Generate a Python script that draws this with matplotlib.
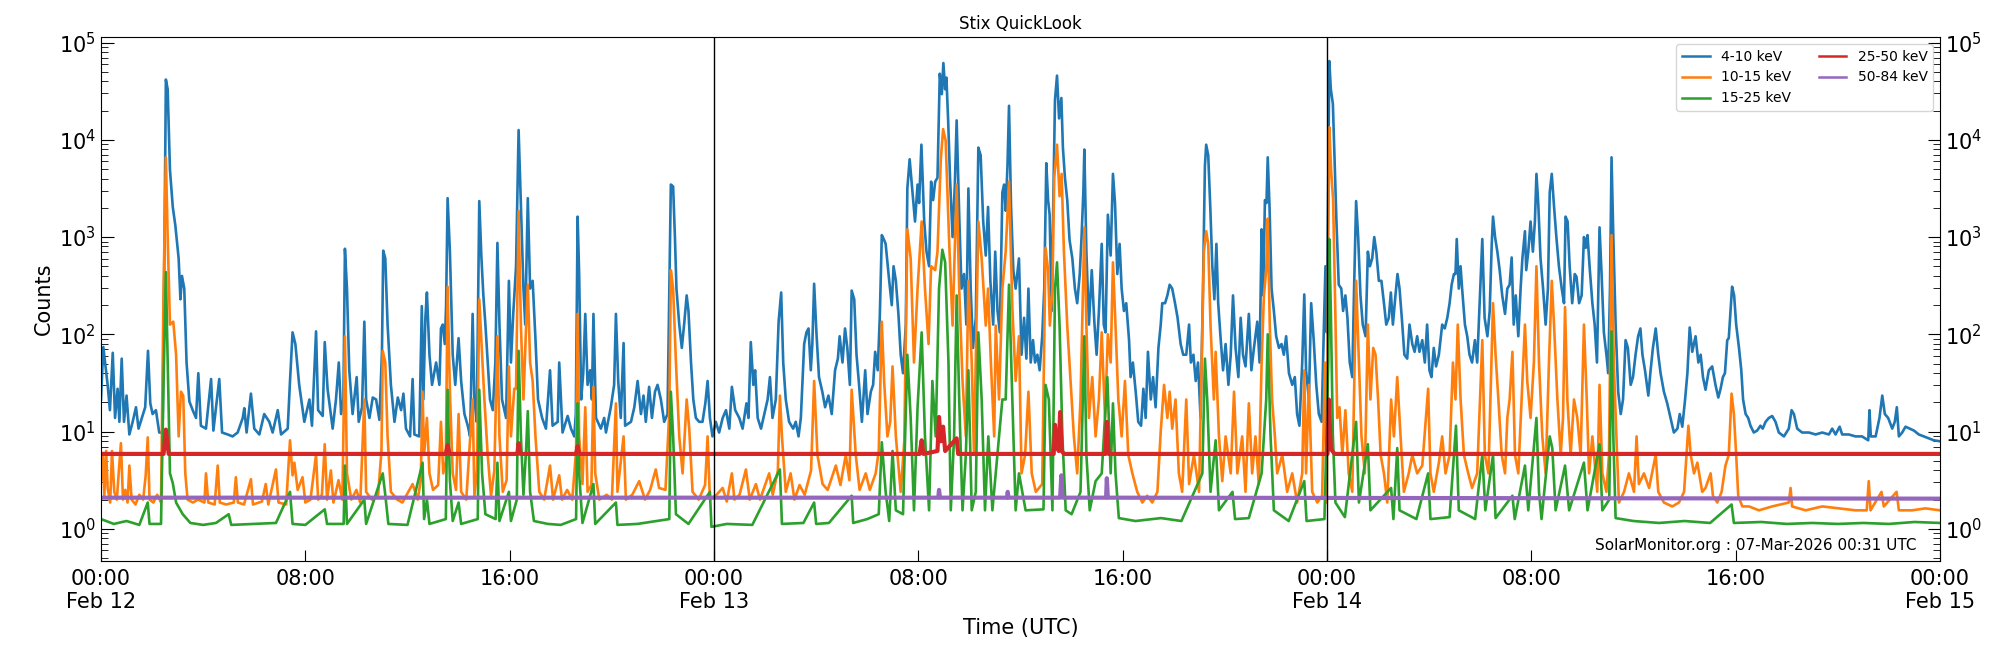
import numpy as np
import matplotlib
matplotlib.use('Agg')
import matplotlib.pyplot as plt

# hours since 2026-02-12 00:00 UTC, log10(counts)
lc_4_10 = [
    (0.00, 1.33), (0.09, 1.87), (0.26, 1.48), (0.35, 1.22), (0.46, 1.81), (0.55, 1.14), (0.65, 1.44),
    (0.72, 1.10), (0.81, 1.75), (0.90, 1.10), (1.00, 1.37), (1.11, 0.97), (1.24, 1.10), (1.37, 1.25),
    (1.47, 1.03), (1.73, 1.25), (1.84, 1.83), (1.93, 1.29), (2.02, 1.18), (2.15, 1.22), (2.28, 0.99),
    (2.41, 0.99), (2.47, 2.47), (2.54, 4.62), (2.61, 4.52), (2.70, 3.69), (2.81, 3.31), (2.91, 3.12),
    (3.04, 2.78), (3.11, 2.36), (3.17, 2.60), (3.26, 2.47), (3.35, 1.71), (3.46, 1.31), (3.59, 1.22),
    (3.72, 1.14), (3.81, 1.60), (3.91, 1.06), (4.11, 1.03), (4.31, 1.54), (4.40, 1.01), (4.63, 1.54),
    (4.74, 0.99), (4.96, 0.97), (5.15, 0.95), (5.35, 0.99), (5.55, 1.14), (5.61, 1.24), (5.70, 0.99),
    (5.87, 1.39), (6.00, 1.03), (6.20, 0.97), (6.39, 1.18), (6.59, 1.10), (6.72, 0.99), (6.92, 1.22),
    (7.05, 0.97), (7.31, 1.03), (7.40, 1.52), (7.50, 2.02), (7.61, 1.90), (7.76, 1.48), (7.96, 1.10),
    (8.16, 1.33), (8.26, 1.06), (8.42, 2.03), (8.50, 1.22), (8.68, 1.16), (8.76, 1.92), (8.87, 1.44),
    (9.07, 1.03), (9.20, 1.33), (9.31, 1.71), (9.40, 1.18), (9.49, 1.33), (9.55, 2.88), (9.63, 2.47),
    (9.72, 1.63), (9.85, 1.18), (10.01, 1.56), (10.09, 1.10), (10.22, 1.25), (10.31, 2.13), (10.38, 1.33),
    (10.51, 1.14), (10.64, 1.35), (10.77, 1.33), (10.90, 1.12), (11.00, 1.82), (11.05, 2.86), (11.13, 2.78),
    (11.22, 2.10), (11.35, 1.48), (11.49, 1.10), (11.62, 1.35), (11.75, 1.22), (11.84, 1.39), (11.94, 1.03),
    (12.10, 0.95), (12.20, 1.54), (12.27, 0.97), (12.46, 0.95), (12.56, 2.29), (12.62, 1.33), (12.70, 2.17),
    (12.76, 2.43), (12.86, 1.79), (12.96, 1.48), (13.12, 1.71), (13.25, 1.48), (13.31, 2.06), (13.38, 2.10),
    (13.46, 1.90), (13.51, 2.28), (13.57, 3.40), (13.66, 2.85), (13.77, 1.79), (13.87, 1.48), (14.00, 1.96),
    (14.10, 1.52), (14.23, 1.18), (14.36, 1.06), (14.45, 0.95), (14.55, 2.21), (14.62, 1.33), (14.71, 1.10),
    (14.81, 3.37), (14.89, 2.81), (14.97, 2.40), (15.05, 2.10), (15.14, 1.71), (15.23, 1.33), (15.34, 1.22),
    (15.44, 1.71), (15.52, 2.94), (15.60, 2.10), (15.70, 1.33), (15.86, 1.14), (15.97, 2.55), (16.05, 1.71),
    (16.14, 2.21), (16.25, 2.70), (16.35, 4.10), (16.44, 3.31), (16.54, 2.47), (16.61, 2.10), (16.71, 3.40),
    (16.80, 2.47), (16.90, 2.55), (17.01, 1.95), (17.11, 1.33), (17.27, 1.14), (17.42, 1.03), (17.58, 1.63),
    (17.68, 1.06), (17.88, 1.10), (17.94, 1.71), (18.07, 0.99), (18.27, 1.16), (18.40, 1.03), (18.53, 0.95),
    (18.59, 1.18), (18.66, 3.21), (18.72, 2.62), (18.80, 1.33), (18.88, 1.60), (18.96, 2.21), (19.05, 1.48),
    (19.15, 1.63), (19.22, 1.33), (19.28, 2.21), (19.38, 1.14), (19.57, 1.03), (19.70, 1.14), (19.77, 0.99),
    (19.96, 1.25), (20.09, 1.48), (20.16, 2.21), (20.25, 1.52), (20.35, 1.14), (20.46, 1.91), (20.52, 1.06),
    (20.75, 1.10), (20.88, 1.25), (21.01, 1.52), (21.14, 1.18), (21.24, 1.37), (21.33, 1.10), (21.46, 1.46),
    (21.57, 1.14), (21.69, 1.41), (21.79, 1.48), (21.92, 1.33), (22.05, 1.10), (22.18, 1.18), (22.25, 2.47),
    (22.31, 3.54), (22.40, 3.52), (22.47, 3.00), (22.53, 2.47), (22.64, 2.10), (22.74, 1.86), (22.83, 2.10),
    (22.93, 2.40), (23.00, 2.24), (23.10, 1.71), (23.19, 1.33), (23.29, 1.14), (23.42, 1.10), (23.55, 1.10),
    (23.66, 1.29), (23.75, 1.52), (23.84, 1.14), (23.94, 0.95), (24.07, 1.10), (24.20, 0.99), (24.34, 1.14),
    (24.47, 1.22), (24.60, 1.03), (24.70, 1.46), (24.83, 1.22), (24.99, 1.14), (25.12, 1.03), (25.27, 1.29),
    (25.35, 1.14), (25.44, 1.92), (25.54, 1.48), (25.61, 1.63), (25.71, 1.14), (25.84, 1.03), (25.97, 1.18),
    (26.10, 1.33), (26.19, 1.56), (26.29, 1.14), (26.42, 1.33), (26.53, 2.13), (26.63, 2.43), (26.71, 1.71),
    (26.81, 1.33), (26.94, 1.10), (27.10, 1.03), (27.20, 1.10), (27.31, 0.95), (27.40, 1.14), (27.53, 1.90),
    (27.62, 2.02), (27.70, 2.06), (27.79, 1.63), (27.85, 1.90), (27.92, 2.52), (28.01, 2.02), (28.11, 1.56),
    (28.24, 1.41), (28.35, 1.25), (28.48, 1.37), (28.61, 1.18), (28.74, 1.63), (28.85, 1.75), (28.92, 1.98),
    (29.03, 1.71), (29.13, 2.06), (29.22, 1.86), (29.32, 1.48), (29.39, 2.45), (29.49, 2.36), (29.58, 1.79),
    (29.68, 1.48), (29.79, 1.10), (29.92, 1.63), (30.01, 1.18), (30.14, 1.41), (30.23, 1.48), (30.31, 1.82),
    (30.41, 1.63), (30.49, 2.17), (30.57, 3.02), (30.66, 2.97), (30.72, 2.93), (30.86, 2.55), (30.96, 2.30),
    (31.03, 2.70), (31.12, 2.55), (31.22, 2.21), (31.31, 1.79), (31.40, 1.60), (31.51, 2.10), (31.57, 3.50),
    (31.66, 3.80), (31.77, 3.46), (31.87, 3.16), (31.97, 3.54), (32.03, 3.35), (32.12, 3.95), (32.23, 3.16),
    (32.32, 2.85), (32.42, 2.70), (32.50, 3.57), (32.58, 3.38), (32.66, 3.57), (32.75, 3.61), (32.84, 4.68),
    (32.92, 4.47), (32.98, 4.79), (33.05, 4.52), (33.10, 4.64), (33.17, 4.18), (33.24, 3.61), (33.34, 3.00),
    (33.43, 3.54), (33.50, 4.20), (33.60, 3.23), (33.69, 2.47), (33.79, 2.62), (33.88, 2.10), (33.96, 3.50),
    (34.05, 2.47), (34.14, 1.86), (34.25, 2.17), (34.35, 3.92), (34.44, 3.84), (34.54, 3.16), (34.64, 2.81),
    (34.73, 3.31), (34.82, 2.55), (34.93, 2.10), (35.01, 2.85), (35.10, 2.24), (35.19, 2.02), (35.29, 3.46),
    (35.36, 3.54), (35.42, 3.27), (35.49, 3.73), (35.55, 4.35), (35.63, 3.31), (35.72, 2.66), (35.81, 2.47),
    (35.94, 2.78), (36.04, 1.79), (36.14, 2.17), (36.23, 1.75), (36.31, 2.47), (36.40, 1.71), (36.49, 1.94),
    (36.57, 1.71), (36.66, 1.79), (36.75, 1.63), (36.85, 1.98), (36.93, 2.47), (37.01, 3.76), (37.08, 3.38),
    (37.14, 3.23), (37.22, 2.24), (37.28, 3.31), (37.35, 4.41), (37.43, 4.66), (37.51, 4.22), (37.60, 4.43),
    (37.66, 3.92), (37.74, 3.61), (37.83, 3.38), (37.92, 2.97), (38.03, 2.78), (38.13, 2.47), (38.22, 2.32),
    (38.32, 2.62), (38.39, 3.00), (38.46, 3.46), (38.50, 3.90), (38.58, 2.85), (38.68, 2.10), (38.79, 2.66),
    (38.89, 2.13), (38.98, 1.79), (39.07, 2.24), (39.18, 2.93), (39.26, 2.10), (39.33, 2.02), (39.42, 3.23),
    (39.53, 2.81), (39.62, 3.65), (39.70, 3.35), (39.79, 2.62), (39.88, 2.93), (39.96, 2.47), (40.05, 2.24),
    (40.14, 2.32), (40.25, 1.94), (40.31, 1.56), (40.40, 1.71), (40.51, 1.41), (40.61, 1.10), (40.72, 1.06),
    (40.81, 1.44), (40.90, 1.14), (40.99, 1.82), (41.10, 1.33), (41.19, 1.56), (41.29, 1.25), (41.40, 1.86),
    (41.49, 2.10), (41.55, 2.32), (41.66, 2.32), (41.75, 2.40), (41.84, 2.51), (41.94, 2.47), (42.05, 2.32),
    (42.15, 2.17), (42.27, 1.90), (42.37, 1.79), (42.49, 1.79), (42.60, 2.10), (42.67, 1.71), (42.77, 1.79),
    (42.86, 1.52), (42.95, 1.71), (43.05, 1.14), (43.14, 2.40), (43.22, 3.73), (43.27, 3.95), (43.35, 3.84),
    (43.43, 3.31), (43.51, 2.70), (43.59, 2.36), (43.67, 2.93), (43.74, 2.32), (43.84, 1.94), (43.93, 1.63),
    (44.03, 1.90), (44.14, 1.48), (44.23, 1.79), (44.32, 2.40), (44.42, 1.86), (44.53, 1.56), (44.62, 2.17),
    (44.71, 1.79), (44.81, 1.67), (44.94, 2.21), (45.04, 1.63), (45.14, 1.86), (45.27, 2.13), (45.36, 1.71),
    (45.44, 3.08), (45.50, 2.40), (45.57, 3.38), (45.63, 3.35), (45.68, 3.82), (45.75, 3.31), (45.83, 2.47),
    (45.92, 2.24), (46.01, 1.98), (46.12, 1.86), (46.22, 1.90), (46.31, 1.79), (46.40, 1.98), (46.51, 1.60),
    (46.64, 1.48), (46.74, 1.56), (46.83, 1.18), (46.92, 1.06), (47.03, 1.71), (47.11, 2.41), (47.18, 1.63),
    (47.29, 1.33), (47.38, 2.32), (47.48, 1.94), (47.58, 1.48), (47.68, 1.18), (47.79, 1.10), (47.88, 2.10),
    (47.94, 2.70), (47.99, 2.02), (48.05, 3.61), (48.09, 4.81), (48.15, 4.52), (48.23, 4.37), (48.31, 3.69),
    (48.37, 3.16), (48.46, 2.51), (48.56, 2.47), (48.63, 2.24), (48.72, 2.40), (48.80, 2.17), (48.89, 1.71),
    (48.99, 1.56), (49.06, 2.47), (49.14, 3.37), (49.22, 3.00), (49.31, 2.40), (49.40, 2.10), (49.51, 1.98),
    (49.60, 2.85), (49.68, 2.70), (49.77, 2.78), (49.85, 3.00), (49.93, 2.85), (50.03, 2.55), (50.13, 2.55),
    (50.23, 2.32), (50.32, 2.10), (50.42, 2.17), (50.50, 2.43), (50.58, 2.10), (50.68, 2.40), (50.76, 2.62),
    (50.84, 2.47), (50.94, 2.13), (51.03, 1.79), (51.14, 1.75), (51.23, 2.10), (51.34, 1.90), (51.43, 1.82),
    (51.53, 1.98), (51.62, 1.82), (51.73, 1.94), (51.83, 1.71), (51.92, 2.10), (52.01, 1.63), (52.09, 1.56),
    (52.18, 1.86), (52.27, 1.67), (52.38, 1.79), (52.51, 2.10), (52.61, 2.06), (52.71, 2.17), (52.80, 2.32),
    (52.88, 2.51), (52.97, 2.62), (53.03, 2.62), (53.08, 2.98), (53.16, 2.47), (53.23, 2.70), (53.29, 2.47),
    (53.40, 2.10), (53.49, 1.98), (53.58, 1.79), (53.68, 1.71), (53.79, 1.94), (53.88, 1.71), (54.00, 2.47),
    (54.08, 2.98), (54.17, 2.17), (54.28, 1.98), (54.37, 2.24), (54.45, 2.93), (54.50, 3.21), (54.58, 3.00),
    (54.67, 2.85), (54.76, 2.66), (54.86, 2.40), (54.97, 2.21), (55.06, 2.47), (55.15, 2.51), (55.23, 2.79),
    (55.31, 2.10), (55.39, 2.40), (55.49, 1.98), (55.58, 2.47), (55.65, 2.78), (55.75, 3.06), (55.80, 2.66),
    (55.88, 2.85), (55.97, 3.16), (56.06, 2.85), (56.14, 3.16), (56.20, 3.65), (56.27, 3.35), (56.36, 2.78),
    (56.46, 2.47), (56.56, 2.10), (56.65, 2.47), (56.72, 3.46), (56.80, 3.65), (56.89, 3.31), (56.98, 3.00),
    (57.08, 2.70), (57.19, 2.47), (57.28, 2.32), (57.34, 3.21), (57.42, 3.16), (57.50, 2.70), (57.60, 2.32),
    (57.70, 2.62), (57.77, 2.59), (57.87, 2.32), (57.97, 2.40), (58.06, 3.00), (58.13, 2.89), (58.20, 3.02),
    (58.28, 2.70), (58.39, 2.32), (58.48, 2.10), (58.57, 1.71), (58.67, 3.10), (58.75, 2.62), (58.84, 2.02),
    (58.94, 1.79), (59.01, 1.60), (59.08, 2.47), (59.14, 3.82), (59.21, 3.00), (59.30, 2.10), (59.40, 1.41),
    (59.50, 1.18), (59.59, 1.33), (59.69, 1.94), (59.78, 1.86), (59.89, 1.48), (59.98, 1.56), (60.08, 1.79),
    (60.18, 1.98), (60.27, 2.06), (60.35, 1.79), (60.45, 1.63), (60.58, 1.37), (60.67, 1.63), (60.76, 1.86),
    (60.87, 2.06), (60.97, 1.79), (61.06, 1.60), (61.19, 1.41), (61.32, 1.29), (61.45, 1.14), (61.58, 0.99),
    (61.72, 1.03), (61.81, 1.18), (61.91, 1.05), (62.02, 1.33), (62.11, 1.60), (62.20, 2.07), (62.30, 1.82),
    (62.43, 1.98), (62.54, 1.71), (62.63, 1.79), (62.72, 1.56), (62.82, 1.43), (62.95, 1.63), (63.08, 1.67),
    (63.21, 1.48), (63.32, 1.35), (63.41, 1.44), (63.50, 1.56), (63.58, 1.60), (63.67, 1.94), (63.73, 1.96),
    (63.80, 2.24), (63.86, 2.49), (63.94, 2.40), (64.02, 2.10), (64.13, 1.86), (64.22, 1.63), (64.29, 1.33),
    (64.39, 1.18), (64.49, 1.14), (64.58, 1.06), (64.71, 0.99), (64.84, 1.01), (64.97, 1.06), (65.06, 1.03),
    (65.17, 1.10), (65.30, 1.14), (65.43, 1.16), (65.56, 1.10), (65.69, 0.99), (65.89, 0.95), (66.08, 1.03),
    (66.19, 1.22), (66.28, 1.18), (66.41, 1.03), (66.60, 0.99), (66.87, 0.99), (67.13, 0.97), (67.39, 0.99),
    (67.65, 0.97), (67.78, 1.03), (67.91, 0.97), (68.07, 1.05), (68.17, 0.97), (68.43, 0.97), (68.69, 0.95),
    (68.95, 0.95), (69.19, 0.91), (69.24, 1.22), (69.29, 0.95), (69.48, 0.95), (69.63, 1.14), (69.74, 1.37),
    (69.84, 1.18), (69.97, 1.14), (70.13, 1.03), (70.23, 1.10), (70.31, 1.25), (70.39, 0.95), (70.52, 0.99),
    (70.65, 1.05), (70.81, 1.03), (70.98, 1.01), (71.17, 0.97), (71.37, 0.95), (71.56, 0.93), (71.76, 0.91),
    (72.00, 0.90),
]

lc_10_15 = [
    (0.00, 0.50), (0.07, 0.78), (0.13, 0.34), (0.20, 0.80), (0.26, 0.42), (0.36, 0.27), (0.43, 0.80),
    (0.52, 0.38), (0.62, 0.30), (0.70, 0.60), (0.78, 0.88), (0.86, 0.30), (0.95, 0.40), (1.04, 0.27),
    (1.11, 0.65), (1.20, 0.30), (1.35, 0.25), (1.50, 0.35), (1.65, 0.30), (1.75, 0.55), (1.83, 0.94),
    (1.90, 0.30), (2.05, 0.27), (2.20, 0.35), (2.35, 0.27), (2.45, 2.47), (2.54, 3.82), (2.61, 3.00),
    (2.70, 2.10), (2.83, 2.13), (2.94, 1.79), (3.04, 0.95), (3.13, 1.41), (3.22, 1.37), (3.30, 0.57),
    (3.39, 0.30), (3.60, 0.27), (3.80, 0.30), (4.05, 0.27), (4.11, 0.57), (4.20, 0.27), (4.45, 0.25),
    (4.57, 0.65), (4.65, 0.27), (4.90, 0.25), (5.20, 0.27), (5.28, 0.53), (5.36, 0.27), (5.60, 0.25),
    (5.87, 0.51), (5.95, 0.25), (6.30, 0.28), (6.45, 0.46), (6.55, 0.25), (6.85, 0.61), (6.95, 0.27),
    (7.25, 0.25), (7.40, 0.91), (7.50, 0.55), (7.57, 0.68), (7.70, 0.40), (7.89, 0.53), (8.00, 0.27),
    (8.20, 0.30), (8.42, 0.76), (8.50, 0.30), (8.65, 0.35), (8.76, 0.87), (8.85, 0.30), (9.00, 0.60),
    (9.10, 0.27), (9.30, 0.50), (9.45, 0.30), (9.55, 1.98), (9.63, 0.57), (9.80, 0.30), (10.00, 0.40),
    (10.15, 0.27), (10.31, 1.33), (10.38, 0.38), (10.60, 0.30), (10.85, 0.35), (10.98, 0.80), (11.03, 1.83),
    (11.13, 1.71), (11.22, 0.95), (11.35, 0.38), (11.60, 0.30), (11.80, 0.27), (12.20, 0.46), (12.40, 0.30),
    (12.52, 0.50), (12.59, 1.41), (12.65, 0.76), (12.76, 1.14), (12.86, 0.57), (13.00, 0.40), (13.20, 0.45),
    (13.31, 1.10), (13.40, 0.57), (13.50, 0.70), (13.57, 2.49), (13.66, 1.41), (13.77, 0.57), (13.90, 0.40),
    (14.00, 1.18), (14.10, 0.38), (14.30, 0.30), (14.55, 1.33), (14.62, 0.34), (14.72, 0.60), (14.81, 2.36),
    (14.92, 1.79), (15.01, 1.33), (15.14, 0.76), (15.27, 0.34), (15.40, 0.60), (15.52, 1.98), (15.60, 0.95),
    (15.73, 0.38), (15.88, 0.50), (15.97, 1.67), (16.05, 0.95), (16.18, 1.44), (16.25, 1.44), (16.35, 3.27),
    (16.44, 2.09), (16.54, 1.33), (16.64, 2.06), (16.71, 2.51), (16.80, 1.71), (16.90, 1.52), (17.01, 0.95),
    (17.16, 0.38), (17.35, 0.30), (17.58, 0.65), (17.70, 0.30), (17.94, 0.55), (18.05, 0.30), (18.25, 0.40),
    (18.45, 0.30), (18.60, 0.80), (18.66, 2.21), (18.72, 0.95), (18.85, 0.46), (18.96, 1.25), (19.05, 0.38),
    (19.20, 0.45), (19.28, 1.46), (19.35, 0.57), (19.51, 0.30), (19.80, 0.35), (20.00, 0.30), (20.16, 1.29),
    (20.22, 0.38), (20.46, 0.95), (20.55, 0.30), (20.80, 0.35), (21.07, 0.49), (21.30, 0.30), (21.50, 0.40),
    (21.72, 0.61), (21.85, 0.42), (22.10, 0.40), (22.25, 1.20), (22.31, 2.66), (22.40, 2.47), (22.51, 1.71),
    (22.64, 0.95), (22.77, 0.57), (22.93, 1.33), (23.03, 1.03), (23.16, 0.38), (23.40, 0.30), (23.65, 0.45),
    (23.75, 0.95), (23.84, 0.30), (24.10, 0.35), (24.34, 0.42), (24.50, 0.28), (24.70, 0.57), (24.80, 0.30),
    (25.00, 0.35), (25.25, 0.61), (25.40, 0.30), (25.64, 0.46), (25.80, 0.30), (26.16, 0.57), (26.30, 0.35),
    (26.50, 0.60), (26.58, 1.37), (26.66, 0.95), (26.81, 0.38), (27.00, 0.57), (27.15, 0.30), (27.35, 0.45),
    (27.55, 0.35), (27.80, 0.60), (27.92, 1.52), (28.05, 0.76), (28.25, 0.46), (28.45, 0.40), (28.77, 0.65),
    (28.95, 0.45), (29.16, 0.76), (29.30, 0.50), (29.39, 1.43), (29.55, 0.76), (29.70, 0.40), (29.94, 0.57),
    (30.10, 0.40), (30.33, 0.57), (30.45, 0.80), (30.57, 2.13), (30.66, 1.52), (30.79, 0.95), (30.90, 1.10),
    (30.99, 1.67), (31.12, 0.95), (31.31, 0.38), (31.45, 0.90), (31.57, 3.08), (31.70, 2.78), (31.83, 1.71),
    (31.97, 2.47), (32.13, 3.16), (32.26, 2.47), (32.40, 1.90), (32.50, 2.70), (32.66, 2.66), (32.75, 2.85),
    (32.88, 3.80), (32.97, 4.11), (33.07, 3.99), (33.20, 3.00), (33.34, 2.09), (33.50, 3.54), (33.60, 2.47),
    (33.73, 1.52), (33.86, 0.95), (33.96, 2.55), (34.09, 1.71), (34.18, 0.76), (34.35, 3.16), (34.48, 2.78),
    (34.64, 2.09), (34.73, 2.47), (34.84, 1.71), (34.97, 0.95), (35.03, 2.09), (35.16, 1.33), (35.29, 2.47),
    (35.42, 2.85), (35.55, 3.57), (35.68, 2.28), (35.81, 1.52), (35.94, 1.98), (36.04, 0.57), (36.18, 0.76),
    (36.31, 1.41), (36.44, 0.57), (36.60, 0.38), (36.85, 0.46), (36.98, 2.89), (37.08, 2.66), (37.15, 2.09),
    (37.25, 2.47), (37.32, 3.61), (37.43, 3.95), (37.53, 3.42), (37.61, 3.65), (37.70, 2.85), (37.83, 2.09),
    (37.96, 1.52), (38.09, 0.95), (38.22, 0.57), (38.35, 1.33), (38.50, 3.10), (38.58, 2.09), (38.68, 1.14),
    (38.81, 1.56), (38.94, 0.95), (39.07, 1.33), (39.18, 2.02), (39.31, 1.14), (39.42, 2.00), (39.53, 1.71),
    (39.62, 2.74), (39.72, 2.09), (39.83, 1.33), (39.96, 0.95), (40.09, 1.52), (40.22, 0.76), (40.38, 0.57),
    (40.57, 0.38), (40.77, 0.27), (40.96, 0.34), (41.16, 0.27), (41.36, 0.38), (41.49, 1.00), (41.62, 1.48),
    (41.75, 1.14), (41.84, 1.41), (41.94, 1.03), (42.07, 1.33), (42.20, 0.57), (42.33, 0.38), (42.49, 1.33),
    (42.60, 0.46), (42.79, 0.76), (42.99, 0.38), (43.18, 2.85), (43.27, 3.06), (43.35, 2.93), (43.44, 2.09),
    (43.57, 1.33), (43.64, 1.82), (43.77, 0.95), (43.90, 0.49), (44.03, 0.95), (44.23, 0.57), (44.36, 1.41),
    (44.49, 0.57), (44.68, 0.95), (44.81, 0.38), (44.94, 1.29), (45.07, 0.57), (45.20, 0.95), (45.33, 0.46),
    (45.44, 1.71), (45.53, 2.40), (45.62, 2.66), (45.68, 3.19), (45.76, 2.09), (45.85, 1.33), (45.96, 0.95),
    (46.05, 0.57), (46.25, 0.76), (46.44, 0.38), (46.64, 0.57), (46.83, 0.27), (47.03, 0.57), (47.11, 1.63),
    (47.18, 0.57), (47.29, 1.48), (47.42, 0.38), (47.62, 0.27), (47.81, 0.34), (47.92, 1.71), (47.99, 0.27),
    (48.05, 3.04), (48.09, 4.13), (48.16, 3.69), (48.24, 3.38), (48.33, 2.17), (48.40, 1.14), (48.49, 1.25),
    (48.60, 0.76), (48.72, 1.22), (48.85, 0.57), (48.99, 0.38), (49.14, 2.55), (49.25, 1.71), (49.35, 0.95),
    (49.48, 0.57), (49.60, 2.10), (49.70, 1.33), (49.81, 1.86), (49.90, 1.79), (50.00, 1.33), (50.10, 0.76),
    (50.23, 0.57), (50.36, 0.27), (50.51, 1.33), (50.62, 0.95), (50.75, 1.56), (50.88, 0.95), (51.01, 0.38),
    (51.20, 0.57), (51.34, 0.76), (51.53, 0.57), (51.73, 0.65), (51.96, 1.44), (52.05, 0.57), (52.18, 0.38),
    (52.38, 0.68), (52.51, 0.95), (52.64, 0.57), (52.80, 0.76), (52.93, 1.71), (53.03, 1.33), (53.12, 2.10),
    (53.23, 1.33), (53.36, 0.76), (53.53, 0.57), (53.68, 0.42), (53.88, 0.57), (54.08, 1.94), (54.18, 0.76),
    (54.32, 0.57), (54.50, 2.32), (54.60, 1.79), (54.71, 1.33), (54.84, 0.76), (54.97, 0.57), (55.06, 1.14),
    (55.15, 1.33), (55.26, 1.82), (55.36, 0.76), (55.49, 0.57), (55.65, 1.52), (55.75, 2.10), (55.84, 1.52),
    (55.97, 1.14), (56.10, 1.71), (56.20, 2.70), (56.30, 1.71), (56.43, 0.95), (56.56, 0.57), (56.69, 1.71),
    (56.80, 2.55), (56.89, 2.09), (57.02, 1.33), (57.15, 0.76), (57.24, 1.14), (57.32, 2.28), (57.41, 1.33),
    (57.54, 0.76), (57.67, 1.33), (57.80, 1.14), (57.93, 0.76), (58.06, 2.10), (58.17, 1.33), (58.26, 0.57),
    (58.39, 0.95), (58.58, 0.38), (58.67, 1.48), (58.78, 0.57), (58.94, 0.38), (59.04, 0.76), (59.14, 3.02),
    (59.23, 1.71), (59.33, 0.95), (59.43, 0.27), (59.63, 0.38), (59.82, 0.57), (60.02, 0.38), (60.12, 0.95),
    (60.21, 0.46), (60.41, 0.57), (60.61, 0.42), (60.87, 0.76), (60.97, 0.38), (61.19, 0.27), (61.52, 0.23),
    (61.78, 0.27), (61.98, 0.38), (62.15, 1.06), (62.24, 0.76), (62.37, 0.57), (62.50, 0.68), (62.69, 0.38),
    (62.82, 0.42), (63.02, 0.57), (63.11, 0.34), (63.28, 0.27), (63.45, 0.38), (63.60, 0.65), (63.73, 0.76),
    (63.84, 1.39), (63.93, 1.18), (64.02, 0.76), (64.10, 0.34), (64.26, 0.23), (64.52, 0.23), (64.91, 0.19),
    (65.43, 0.23), (66.08, 0.27), (66.15, 0.42), (66.21, 0.23), (66.74, 0.19), (67.39, 0.23), (68.04, 0.21),
    (68.69, 0.19), (69.13, 0.19), (69.21, 0.49), (69.28, 0.19), (69.71, 0.38), (69.80, 0.23), (70.30, 0.38),
    (70.39, 0.19), (70.91, 0.19), (71.43, 0.21), (72.00, 0.19),
]

lc_15_25 = [
    (0.00, 0.10), (0.50, 0.05), (1.00, 0.08), (1.50, 0.04), (1.83, 0.27), (1.90, 0.05), (2.35, 0.05),
    (2.45, 1.52), (2.54, 2.64), (2.61, 1.71), (2.70, 0.57), (2.81, 0.47), (2.94, 0.27), (3.20, 0.15),
    (3.50, 0.06), (4.00, 0.04), (4.50, 0.06), (5.00, 0.15), (5.10, 0.04), (6.00, 0.05), (6.85, 0.06),
    (7.40, 0.38), (7.50, 0.05), (8.00, 0.04), (8.76, 0.20), (8.85, 0.05), (9.50, 0.05), (9.55, 0.65),
    (9.63, 0.05), (10.31, 0.30), (10.38, 0.05), (11.03, 0.57), (11.13, 0.35), (11.25, 0.05), (12.00, 0.04),
    (12.59, 0.68), (12.65, 0.10), (12.76, 0.30), (12.86, 0.05), (13.50, 0.10), (13.57, 1.43), (13.66, 0.50),
    (13.77, 0.08), (14.00, 0.27), (14.10, 0.05), (14.75, 0.10), (14.81, 1.43), (14.92, 0.57), (15.05, 0.15),
    (15.45, 0.10), (15.52, 0.68), (15.60, 0.08), (15.97, 0.38), (16.05, 0.08), (16.28, 0.30), (16.35, 1.83),
    (16.44, 0.95), (16.54, 0.35), (16.64, 0.80), (16.71, 1.21), (16.80, 0.38), (16.95, 0.08), (17.50, 0.05),
    (18.00, 0.04), (18.60, 0.10), (18.66, 1.29), (18.72, 0.57), (18.85, 0.06), (19.28, 0.46), (19.35, 0.05),
    (20.16, 0.27), (20.22, 0.04), (21.00, 0.05), (22.25, 0.10), (22.31, 1.41), (22.40, 0.95), (22.51, 0.15),
    (23.00, 0.05), (23.84, 0.38), (23.90, 0.02), (24.50, 0.05), (25.50, 0.04), (26.58, 0.61), (26.66, 0.05),
    (27.50, 0.06), (27.92, 0.27), (28.00, 0.05), (28.50, 0.06), (29.39, 0.34), (29.45, 0.06), (30.00, 0.10),
    (30.45, 0.15), (30.57, 0.89), (30.72, 0.38), (30.86, 0.08), (30.99, 0.80), (31.12, 0.19), (31.40, 0.15),
    (31.57, 1.79), (31.70, 1.14), (31.83, 0.19), (31.97, 1.25), (32.13, 2.02), (32.26, 0.95), (32.42, 0.19),
    (32.55, 1.52), (32.68, 0.95), (32.81, 2.47), (32.94, 2.87), (33.05, 2.74), (33.18, 1.71), (33.27, 0.19),
    (33.40, 0.95), (33.50, 2.40), (33.60, 1.33), (33.73, 0.19), (33.86, 0.76), (33.96, 1.63), (34.09, 0.19),
    (34.25, 0.38), (34.35, 2.02), (34.48, 1.33), (34.61, 0.19), (34.74, 0.95), (34.90, 0.19), (35.16, 0.95),
    (35.29, 1.33), (35.42, 1.33), (35.55, 2.51), (35.68, 1.33), (35.81, 0.19), (35.94, 0.57), (36.20, 0.19),
    (36.90, 0.20), (36.98, 1.48), (37.11, 1.33), (37.25, 0.19), (37.35, 2.47), (37.43, 2.74), (37.53, 2.09),
    (37.64, 0.95), (37.77, 0.19), (38.00, 0.15), (38.35, 0.38), (38.50, 1.98), (38.58, 0.76), (38.71, 0.19),
    (38.94, 0.49), (39.18, 0.57), (39.40, 1.56), (39.53, 0.57), (39.62, 1.29), (39.72, 0.57), (39.85, 0.11),
    (40.50, 0.08), (41.50, 0.11), (42.30, 0.08), (43.12, 0.57), (43.22, 1.75), (43.31, 1.33), (43.44, 0.38),
    (43.64, 0.91), (43.77, 0.19), (44.30, 0.38), (44.40, 0.10), (44.94, 0.11), (45.44, 0.57), (45.62, 1.33),
    (45.68, 2.00), (45.79, 0.95), (45.92, 0.19), (46.50, 0.08), (47.11, 0.49), (47.20, 0.08), (47.90, 0.10),
    (48.05, 1.71), (48.09, 2.98), (48.15, 2.24), (48.23, 0.95), (48.33, 0.27), (48.70, 0.12), (49.14, 1.10),
    (49.25, 0.27), (49.60, 0.87), (49.70, 0.19), (50.51, 0.42), (50.60, 0.10), (50.75, 0.83), (50.84, 0.19),
    (51.50, 0.10), (51.96, 0.57), (52.05, 0.10), (52.80, 0.12), (53.05, 1.06), (53.16, 0.19), (53.80, 0.10),
    (54.08, 0.76), (54.20, 0.19), (54.50, 0.76), (54.60, 0.11), (55.26, 0.34), (55.35, 0.10), (55.75, 0.65),
    (55.88, 0.19), (56.20, 1.14), (56.30, 0.38), (56.40, 0.10), (56.72, 0.95), (56.82, 0.83), (56.95, 0.19),
    (57.32, 0.65), (57.48, 0.19), (58.06, 0.68), (58.20, 0.19), (58.67, 0.87), (58.78, 0.19), (59.05, 0.30),
    (59.14, 2.03), (59.21, 0.95), (59.30, 0.11), (60.00, 0.08), (61.00, 0.06), (62.00, 0.08), (63.00, 0.06),
    (63.84, 0.25), (63.93, 0.06), (65.00, 0.07), (66.00, 0.05), (67.00, 0.06), (68.00, 0.05), (69.00, 0.06),
    (70.00, 0.05), (71.00, 0.07), (72.00, 0.06),
]

lc_25_50 = [
    (0.00, 0.77), (2.45, 0.77), (2.54, 1.02), (2.65, 0.77), (13.50, 0.77), (13.57, 0.86), (13.65, 0.77),
    (16.30, 0.77), (16.35, 0.88), (16.42, 0.77), (18.60, 0.77), (18.66, 0.85), (18.73, 0.77), (32.05, 0.77),
    (32.13, 0.91), (32.20, 0.77), (32.75, 0.80), (32.81, 1.15), (32.88, 0.90), (32.97, 1.05), (33.05, 0.80),
    (33.50, 0.93), (33.56, 0.77), (37.30, 0.77), (37.35, 1.07), (37.42, 0.85), (37.50, 0.80), (37.55, 1.20),
    (37.62, 0.80), (37.70, 0.77), (39.33, 0.77), (39.38, 1.10), (39.45, 0.77), (48.02, 0.77), (48.07, 1.33),
    (48.15, 0.82), (48.30, 0.77), (72.00, 0.77),
]

lc_50_84 = [
    (0.00, 0.32), (32.78, 0.32), (32.81, 0.40), (32.85, 0.32), (35.47, 0.32), (35.50, 0.38), (35.53, 0.32),
    (37.55, 0.32), (37.60, 0.55), (37.65, 0.32), (39.35, 0.32), (39.38, 0.52), (39.42, 0.32), (72.00, 0.31),
]

bands = ['4-10 keV', '10-15 keV', '15-25 keV', '25-50 keV', '50-84 keV']
curves = [lc_4_10, lc_10_15, lc_15_25, lc_25_50, lc_50_84]
widths = [1.9, 1.9, 1.9, 3.0, 3.0]

tick_hours = [0, 8, 16, 24, 32, 40, 48, 56, 64, 72]
tick_labels = ['00:00\nFeb 12', '08:00', '16:00', '00:00\nFeb 13', '08:00', '16:00',
               '00:00\nFeb 14', '08:00', '16:00', '00:00\nFeb 15']

fig = plt.figure(figsize=(20, 6.5), dpi=100)
ax = fig.add_axes([0.0505, 0.137, 0.9195, 0.806])

for name, pts, lw in zip(bands, curves, widths):
    arr = np.array(pts)
    ax.plot(arr[:, 0], 10 ** arr[:, 1], lw=lw, label=name)

ax.axvline(24, color='black', lw=1)
ax.axvline(48, color='black', lw=1)

ax.set_yscale('log')
ax.set_ylim(0.467, 1.14e5)
ax.set_xlim(0, 72)
ax.set_xticks(tick_hours)
ax.set_xticklabels(tick_labels)

ax.tick_params(axis='both', which='both', direction='in', labelsize=15)
ax.tick_params(axis='y', which='both', right=True, labelright=True)
ax.tick_params(axis='y', which='major', length=9)
ax.tick_params(axis='y', which='minor', length=5)
ax.tick_params(axis='x', which='major', length=8, pad=6)

ax.set_xlabel('Time (UTC)', fontsize=15)
ax.set_ylabel('Counts', fontsize=15)
ax.set_title('Stix QuickLook', fontsize=12)

leg = ax.legend(loc='upper right', ncol=2, fontsize=10)
for line in leg.get_lines():
    line.set_linewidth(1.8)
ax.text(0.987, 0.03, 'SolarMonitor.org : 07-Mar-2026 00:31 UTC', transform=ax.transAxes,
        ha='right', va='center', fontsize=11)

fig.savefig('out.png', dpi=100)
